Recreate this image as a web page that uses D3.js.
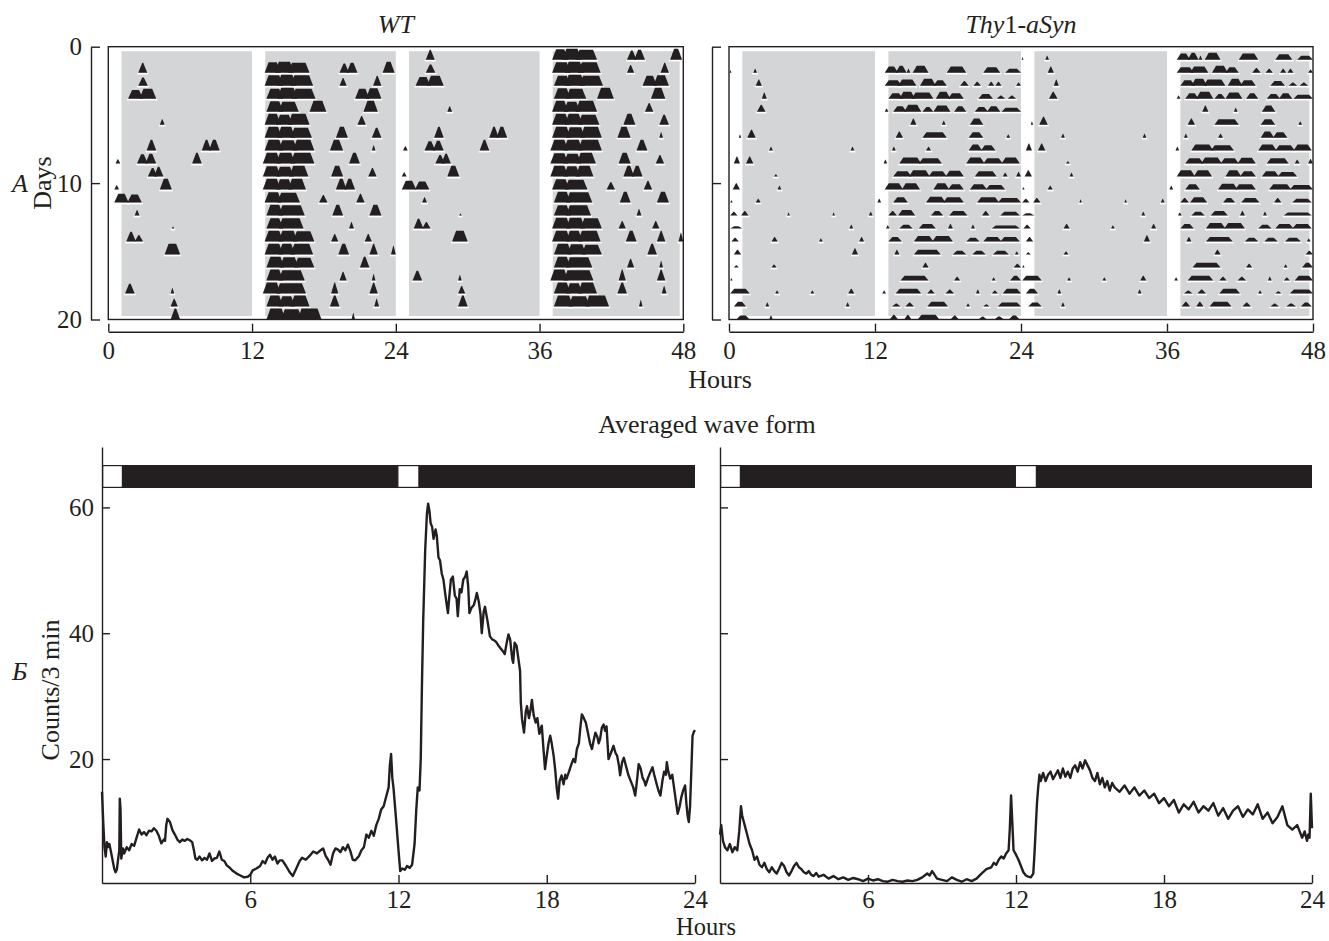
<!DOCTYPE html>
<html>
<head>
<meta charset="utf-8">
<script src="https://cdn.jsdelivr.net/npm/d3@7"></script>
<style>
  body { margin: 0; background: #fff; }
  svg text { font-family: "Liberation Serif", "Times New Roman", serif; fill: #231f20; }
</style>
</head>
<body>
<svg id="chart" width="1329" height="941"></svg>
<script>
// ---------------- data ----------------
const hourTicks = [0, 12, 24, 36, 48];
const dayTicks = [0, 10, 20];
const waveTicks = [20, 40, 60];
const waveHourTicks = [6, 12, 18, 24];
const darkSpans = [[1.1, 12.0], [13.1, 24.0], [25.1, 36.0], [37.1, 47.7]];
const lightBoxes = [[0, 0.85], [11.95, 12.85]];

// activity bouts per day: [start hour, end hour, relative height]; index = day number
const wtDays = [
  [],
  [[2.5,3.25,0.9],[13.05,14.4,0.95],[13.9,15.5,1],[15.0,16.8,0.9],[19.3,20.1,0.85],[19.9,20.8,0.9],[22.9,23.9,1]],
  [[2.5,3.3,0.75],[13.05,14.6,0.95],[14.1,15.7,1],[15.2,17.1,0.95],[19.3,19.9,0.7],[22.1,22.8,0.9]],
  [[1.65,2.9,0.8],[2.6,4.0,0.9],[13.2,14.6,0.9],[14.1,15.8,1],[15.3,17.3,0.9],[20.6,21.8,0.9],[21.5,22.8,0.95]],
  [[13.2,14.6,0.95],[14.2,15.9,0.9],[16.8,18.2,1],[21.3,22.5,1]],
  [[4.3,4.7,0.5],[13.05,14.4,1],[14.0,15.4,0.9],[15.0,16.8,1],[20.8,21.5,0.8]],
  [[13.05,14.5,1],[14.1,15.6,1],[15.2,17.0,0.9],[19.0,20.0,1],[22.0,22.8,0.9]],
  [[3.2,4.0,1],[7.8,8.6,1],[8.4,9.3,1],[13.05,14.6,1],[14.2,15.8,0.95],[15.4,17.2,1],[18.5,19.6,1],[22.0,22.3,0.5]],
  [[0.6,1.0,0.4],[2.4,3.3,0.85],[3.1,4.0,0.9],[7.0,7.8,1],[12.9,14.4,1],[14.0,15.6,1],[15.2,17.2,1],[20.1,21.0,1]],
  [[3.3,4.1,0.8],[3.8,4.6,0.9],[12.9,14.4,0.95],[14.0,15.5,0.9],[15.1,16.7,1],[18.6,19.6,1],[21.7,22.4,0.8]],
  [[0.5,0.9,0.4],[4.3,5.3,1],[12.9,14.4,1],[14.0,15.4,0.95],[15.0,16.5,1],[19.0,19.9,1],[19.7,20.6,1]],
  [[0.5,1.7,0.8],[1.6,2.8,0.75],[13.05,14.5,0.95],[14.1,16.0,0.9],[17.6,18.3,0.7],[20.7,21.4,0.8]],
  [[2.2,2.6,0.5],[13.2,14.6,1],[14.2,16.4,0.95],[18.7,19.6,1],[21.8,22.8,1]],
  [[5.3,5.5,0.2],[13.2,14.6,0.95],[14.2,16.3,0.95],[20.1,20.5,0.6]],
  [[1.5,2.3,0.9],[2.2,2.9,0.6],[13.05,14.6,1],[14.2,15.8,1],[15.4,17.2,0.95],[18.6,19.2,0.7],[21.4,22.0,0.7]],
  [[4.7,6.0,1],[13.05,14.6,1],[14.2,15.6,1],[15.2,17.1,1],[19.2,20.1,1],[21.8,22.5,1],[23.6,24.0,0.8]],
  [[13.2,14.7,1],[14.3,15.9,0.95],[15.5,17.2,0.9],[21.0,21.8,1]],
  [[13.2,14.6,1],[14.2,16.4,0.95],[19.3,19.9,0.8],[22.0,22.3,0.6]],
  [[1.4,2.2,0.9],[5.2,5.5,0.5],[12.9,14.4,1],[14.0,16.5,0.95],[18.6,19.2,1],[21.8,22.5,1]],
  [[5.2,5.8,0.7],[13.2,14.6,1],[14.2,15.6,0.95],[15.2,16.8,1],[18.5,19.3,1],[22.2,22.6,0.7]],
  [[5.2,6.0,1],[13.2,14.8,1],[14.4,16.2,0.95],[15.8,17.8,1],[20.3,20.6,0.6]]
];

const thyDays = [
  [],
  [[0.05,0.2,0.3],[2.0,2.3,0.5],[12.8,13.9,0.8],[13.7,14.6,0.9],[14.6,14.9,0.5],[15.1,16.4,0.9],[17.9,19.5,0.8],[20.9,22.3,0.7],[22.7,24.0,0.5]],
  [[2.2,2.7,0.8],[12.8,14.2,0.7],[13.9,15.4,0.8],[15.7,17.0,0.9],[16.8,17.9,0.7],[19.0,19.7,0.6],[20.1,20.7,0.5],[21.3,21.8,0.5],[21.9,22.4,0.5],[23.6,24.0,0.4]],
  [[2.7,3.1,0.8],[13.1,14.3,0.7],[14.0,15.3,0.9],[15.0,16.8,0.8],[17.0,18.2,0.9],[18.0,19.3,0.7],[20.5,21.7,0.6],[22.0,22.7,0.4],[22.9,23.6,0.4]],
  [[2.3,3.0,0.9],[12.8,13.1,0.4],[13.5,14.6,0.7],[14.4,15.8,0.9],[15.9,16.8,0.6],[16.8,18.2,0.8],[18.5,19.5,0.7],[20.2,21.3,0.6],[21.2,22.3,0.7],[22.4,24.0,0.5]],
  [[14.9,15.4,0.8],[17.5,17.8,0.5],[19.8,20.9,0.8]],
  [[0.8,1.0,0.4],[1.5,2.2,1],[13.7,14.3,0.8],[15.9,17.9,0.7],[19.7,20.9,0.7],[22.8,23.1,0.4]],
  [[3.3,3.6,0.5],[10.0,10.3,0.5],[13.4,13.7,0.5],[16.2,16.6,0.5],[19.7,20.8,0.8],[20.7,21.9,0.7]],
  [[0.4,0.9,0.9],[1.4,2.0,0.9],[12.7,13.0,0.5],[14.0,15.8,0.8],[15.6,17.5,0.7],[19.5,21.0,0.8],[20.9,22.5,0.7],[22.4,23.9,0.8]],
  [[3.7,4.0,0.3],[13.5,15.0,0.7],[14.8,16.5,0.8],[16.4,17.9,0.7],[17.8,19.3,0.75],[20.2,22.0,0.7],[22.5,22.9,0.5],[23.6,24.0,0.6]],
  [[0.3,0.9,0.8],[4.0,4.3,0.5],[12.8,14.3,0.8],[14.2,15.7,0.8],[16.8,18.1,0.8],[18.0,19.3,0.7],[19.8,21.2,0.7],[21.1,22.7,0.6]],
  [[0.1,0.3,0.3],[2.2,2.6,0.5],[12.2,12.5,0.5],[13.5,14.7,0.7],[16.2,17.8,0.75],[17.6,19.3,0.7],[20.4,22.2,0.7],[22.1,24.0,0.6]],
  [[0.1,0.7,0.5],[1.0,1.6,0.6],[4.8,5.0,0.4],[8.5,8.7,0.4],[11.5,11.8,0.5],[13.1,13.8,0.6],[13.9,15.3,0.7],[16.6,17.6,0.6],[18.1,19.6,0.6],[20.8,21.4,0.6],[22.3,23.9,0.5]],
  [[0.1,1.1,0.3],[9.9,10.2,0.5],[12.9,13.2,0.4],[14.0,15.1,0.5],[15.6,17.0,0.6],[18.0,18.4,0.6],[19.9,20.2,0.5],[21.6,23.9,0.4]],
  [[0.2,0.8,0.5],[3.5,4.0,0.6],[7.4,7.7,0.4],[10.7,11.1,0.6],[13.1,14.2,0.6],[15.2,16.8,0.7],[16.7,18.4,0.7],[19.5,20.6,0.5],[20.9,22.4,0.6],[22.3,23.9,0.6]],
  [[0.4,1.0,0.6],[10.1,10.6,0.8],[13.6,14.0,0.6],[15.2,17.4,0.6],[18.4,19.5,0.5],[20.0,21.1,0.5],[21.7,23.0,0.5],[23.5,23.8,0.4]],
  [[0.4,0.8,0.3],[3.5,3.9,0.4],[15.9,16.4,0.6],[23.4,24.0,0.5]],
  [[0.1,0.3,0.3],[14.1,16.4,0.6],[18.5,19.0,0.5],[21.6,21.9,0.4],[23.1,24.0,0.6]],
  [[0.1,1.7,0.6],[3.8,4.1,0.4],[6.7,7.0,0.4],[9.8,10.3,0.6],[12.6,12.9,0.4],[13.7,15.8,0.6],[16.3,16.9,0.5],[17.8,18.5,0.5],[20.3,20.6,0.5],[21.6,22.1,0.4],[22.5,24.0,0.6]],
  [[0.4,1.4,0.6],[3.0,3.3,0.5],[9.6,9.9,0.5],[13.4,14.1,0.4],[14.5,15.2,0.5],[16.3,18.0,0.6],[19.5,19.8,0.4],[20.9,21.4,0.3],[22.1,24.0,0.5]],
  [[0.6,1.7,0.5],[3.3,3.6,0.5],[13.2,13.9,0.6],[14.4,15.0,0.6],[15.5,17.3,0.6],[18.2,18.9,0.5],[20.5,21.2,0.4],[21.8,22.6,0.4],[23.0,23.9,0.5]]
];

// averaged wave form: [hour, counts per 3 min]
const wtWave = [
  [0,14.8],[0.05,10],[0.1,6],[0.15,4.5],[0.2,6.8],[0.25,6.0],[0.3,6.5],[0.4,4.5],[0.5,2.5],[0.55,2.0],[0.6,2.4],[0.65,4],
  [0.7,5.5],[0.72,13.7],[0.75,12],[0.78,4.2],[0.85,5.8],[0.9,5],[1.0,6],[1.1,5.5],[1.2,6.5],[1.3,6.2],[1.4,7.5],[1.5,8.8],
  [1.6,8.0],[1.7,8.4],[1.8,7.9],[1.9,8.6],[2.0,8.5],[2.1,9.0],[2.2,8.6],[2.3,7.8],[2.4,6.6],[2.5,7.2],[2.55,7.0],[2.6,9.5],
  [2.65,10.5],[2.75,10.0],[2.85,8.7],[2.95,8.0],[3.05,7.2],[3.15,6.8],[3.25,7.2],[3.35,7.0],[3.45,7.3],[3.55,7.1],[3.65,6.8],
  [3.72,5.5],[3.78,4.2],[3.85,4.0],[3.95,4.5],[4.05,3.9],[4.15,4.3],[4.25,4.0],[4.35,5.0],[4.45,3.8],[4.55,4.2],[4.65,4.3],
  [4.75,5.3],[4.85,4.0],[4.95,3.8],[5.05,3.1],[5.15,2.8],[5.3,2.2],[5.45,1.8],[5.6,1.5],[5.75,1.2],[5.9,1.3],[6.0,1.6],
  [6.1,2.3],[6.25,2.6],[6.4,3.0],[6.5,3.8],[6.6,3.4],[6.7,4.3],[6.8,4.8],[6.9,4.0],[7.0,4.5],[7.1,3.4],[7.2,3.9],[7.3,3.9],
  [7.45,3.0],[7.6,2.0],[7.72,1.4],[7.85,2.5],[8.0,3.8],[8.1,4.3],[8.25,4.0],[8.4,4.6],[8.55,5.3],[8.7,5.0],[8.85,5.5],
  [8.95,5.8],[9.05,4.6],[9.15,4.0],[9.25,3.2],[9.35,5.0],[9.45,5.8],[9.55,5.6],[9.65,5.2],[9.75,6.0],[9.85,5.5],[9.95,6.4],
  [10.05,5.4],[10.15,4.0],[10.25,3.9],[10.4,4.6],[10.5,5.5],[10.6,6.0],[10.7,8.0],[10.8,7.5],[10.9,8.6],[11.0,7.8],[11.1,9.5],
  [11.2,10.5],[11.3,12.0],[11.4,12.5],[11.5,14.0],[11.6,15.5],[11.65,19],[11.7,20.8],[11.75,17],[11.8,15.3],[11.9,10.5],
  [12.0,5.5],[12.07,2.2],[12.15,2.6],[12.25,2.4],[12.35,3.0],[12.45,2.7],[12.55,3.2],[12.65,6.5],[12.72,12],[12.78,15.5],
  [12.85,15.0],[12.9,20],[12.95,32],[13.0,42],[13.08,53.2],[13.15,59],[13.2,60.6],[13.25,59.5],[13.3,57.5],[13.36,56.9],
  [13.42,55.0],[13.5,56.5],[13.55,55.5],[13.62,52.0],[13.68,51.6],[13.75,49.5],[13.82,48.5],[13.9,46.0],[14.0,43.2],
  [14.05,45.5],[14.12,48.5],[14.2,49.0],[14.28,46.0],[14.35,45.5],[14.4,42.7],[14.48,47.0],[14.55,46.5],[14.62,48.5],
  [14.7,49.0],[14.76,49.8],[14.82,47.5],[14.87,43.2],[14.95,44.0],[15.05,44.5],[15.12,45.5],[15.17,46.4],[15.25,45.0],
  [15.32,43.0],[15.37,40.0],[15.45,43.5],[15.5,44.2],[15.6,42.0],[15.7,39.5],[15.8,39.0],[15.9,38.8],[15.97,38.5],
  [16.05,38.0],[16.15,37.5],[16.25,37.0],[16.3,36.7],[16.38,38.5],[16.45,39.8],[16.52,39.0],[16.6,36.0],[16.64,35.3],
  [16.7,38.5],[16.78,38.0],[16.85,36.0],[16.92,34.0],[16.95,29],[17.0,26.3],[17.08,24.2],[17.15,27.5],[17.2,28.4],
  [17.28,26.5],[17.35,28.0],[17.4,29.4],[17.47,27.0],[17.55,25.8],[17.62,26.5],[17.7,24.0],[17.8,25.3],[17.87,21.5],
  [17.93,18.4],[18.0,20.5],[18.07,22.5],[18.14,23.7],[18.2,22.5],[18.28,20.5],[18.35,18.0],[18.4,15.5],[18.46,13.7],
  [18.52,16.5],[18.6,17.4],[18.68,16.0],[18.75,17.5],[18.8,16.9],[18.9,18.0],[19.0,19.2],[19.08,20.0],[19.15,19.5],
  [19.22,21.6],[19.3,22.5],[19.36,25.0],[19.42,27.1],[19.5,26.5],[19.58,25.8],[19.65,24.5],[19.75,22.5],[19.83,21.6],
  [19.9,23.0],[19.97,24.2],[20.05,23.5],[20.1,22.5],[20.16,23.2],[20.23,25.0],[20.3,25.5],[20.36,24.5],[20.42,25.2],
  [20.5,20.0],[20.6,21.0],[20.7,22.1],[20.78,21.0],[20.85,20.5],[20.92,19.0],[20.97,17.4],[21.05,19.5],[21.12,20.2],
  [21.2,19.0],[21.3,17.5],[21.4,16.5],[21.5,15.5],[21.58,14.2],[21.65,16.5],[21.72,19.2],[21.8,18.5],[21.88,17.0],
  [21.95,16.5],[22.0,15.8],[22.1,17.0],[22.2,18.0],[22.28,18.7],[22.35,17.5],[22.45,16.0],[22.52,15.0],[22.6,14.2],
  [22.68,16.5],[22.75,18.0],[22.82,17.5],[22.86,19.5],[22.92,18.0],[23.0,16.9],[23.08,17.5],[23.15,15.5],[23.22,13.5],
  [23.3,11.3],[23.38,12.5],[23.45,14.0],[23.52,15.0],[23.6,15.8],[23.65,13.0],[23.7,11.0],[23.75,10.0],[23.8,12.5],
  [23.85,18.0],[23.9,23.7],[23.95,24.3],[24.0,24.6]
];

const thyWave = [
  [0,8.0],[0.05,9.5],[0.12,7.0],[0.2,6.0],[0.3,5.5],[0.4,6.5],[0.5,5.2],[0.6,6.0],[0.7,5.5],[0.78,8.5],[0.85,12.5],[0.9,11.0],
  [1.0,9.5],[1.1,8.0],[1.2,6.5],[1.3,5.5],[1.4,4.0],[1.5,4.5],[1.6,3.2],[1.7,2.8],[1.8,3.5],[1.9,2.5],[2.0,2.0],[2.1,2.8],
  [2.2,2.2],[2.3,1.8],[2.4,2.6],[2.5,3.5],[2.6,3.0],[2.7,2.0],[2.8,1.5],[2.9,2.2],[3.0,3.0],[3.1,3.5],[3.2,2.8],[3.3,2.5],
  [3.4,2.0],[3.5,1.8],[3.6,2.2],[3.7,1.6],[3.8,1.4],[3.9,1.9],[4.0,1.3],[4.2,1.6],[4.4,1.0],[4.6,1.4],[4.8,0.9],[5.0,1.2],
  [5.2,0.8],[5.4,1.1],[5.6,0.9],[5.8,0.6],[6.0,1.0],[6.2,0.7],[6.4,0.9],[6.6,0.6],[6.8,0.5],[7.0,0.8],[7.2,0.6],[7.4,0.5],
  [7.6,0.7],[7.8,0.6],[8.0,0.8],[8.2,1.2],[8.4,1.8],[8.5,1.5],[8.6,2.2],[8.7,1.6],[8.8,1.0],[9.0,0.8],[9.2,0.6],[9.4,1.2],
  [9.6,0.8],[9.8,0.5],[10.0,0.9],[10.2,0.6],[10.4,1.0],[10.6,1.8],[10.8,2.5],[11.0,2.8],[11.1,3.5],[11.2,3.2],[11.3,4.0],
  [11.4,4.5],[11.5,4.2],[11.6,5.0],[11.7,5.5],[11.75,9],[11.8,14.2],[11.85,10],[11.9,5.5],[12.0,4.8],[12.1,4.0],[12.2,3.0],
  [12.3,2.0],[12.4,1.5],[12.5,1.3],[12.6,1.2],[12.7,1.8],[12.75,5],[12.8,9],[12.85,13],[12.9,15.5],[12.95,17.5],[13.0,16.5],
  [13.1,17.8],[13.2,16.5],[13.3,17.5],[13.4,18.0],[13.5,16.8],[13.6,17.5],[13.7,18.2],[13.8,17.0],[13.9,18.5],[14.0,17.2],
  [14.1,18.0],[14.2,17.0],[14.3,18.5],[14.4,19.0],[14.5,18.0],[14.6,19.5],[14.7,18.5],[14.8,19.8],[14.9,19.0],[15.0,18.2],
  [15.1,17.0],[15.2,16.5],[15.3,17.8],[15.4,16.0],[15.5,17.0],[15.6,15.5],[15.7,16.5],[15.8,15.0],[15.9,16.2],[16.0,15.5],
  [16.2,14.8],[16.4,15.8],[16.6,14.5],[16.8,15.5],[17.0,14.2],[17.2,15.0],[17.4,13.8],[17.6,14.5],[17.8,13.0],[18.0,13.8],
  [18.2,12.5],[18.4,13.5],[18.6,11.5],[18.8,12.8],[19.0,12.0],[19.2,13.2],[19.4,11.5],[19.6,12.5],[19.8,11.8],[20.0,13.0],
  [20.2,11.0],[20.4,12.2],[20.6,10.5],[20.8,11.8],[21.0,12.5],[21.2,10.8],[21.4,12.0],[21.6,11.2],[21.8,12.8],[22.0,10.5],
  [22.2,11.5],[22.4,9.8],[22.6,10.8],[22.8,12.5],[23.0,9.5],[23.2,8.8],[23.4,9.5],[23.6,7.5],[23.7,8.5],[23.8,7.0],
  [23.85,8.0],[23.9,7.5],[23.95,14.5],[24.0,9.0]
];

// ---------------- drawing ----------------
const svg = d3.select("#chart");
const ink = "#231f20";
const shade = "#d4d5d7";
const fontSize = 26;
const tickFont = 25;

function styleAxis(g) {
  g.attr("font-family", null).attr("font-size", null);
  g.selectAll("path, line").attr("stroke", ink).attr("stroke-width", 1.4);
  g.selectAll("text").style("font-size", tickFont + "px").attr("fill", ink);
}

function drawActogram(days, xRange, yAxisX, withLabels, boutScale) {
  const x = d3.scaleLinear().domain([0, 48]).range(xRange);
  const y = d3.scaleLinear().domain([0, 20]).range([46.7, 319.5]);
  const rows = d3.scaleBand().domain(d3.range(21)).range([y(0), y(20)]);
  const unit = rows.bandwidth() * boutScale;
  const g = svg.append("g");

  // shaded dark periods
  g.selectAll("rect.dark")
    .data(darkSpans)
    .join("rect")
    .attr("class", "dark")
    .attr("x", d => x(d[0]))
    .attr("width", d => x(d[1]) - x(d[0]))
    .attr("y", y(0) + 4.5)
    .attr("height", y(20) - y(0) - 8)
    .attr("fill", shade);

  // double plot: row r shows day r (0-24 h) and day r+1 (24-48 h)
  const bouts = [];
  rows.domain().forEach(r => {
    (days[r] || []).forEach(b => bouts.push({ r, s: b[0], e: b[1], h: b[2] }));
    (days[r + 1] || []).forEach(b => bouts.push({ r, s: b[0] + 24, e: b[1] + 24, h: b[2] }));
  });

  const base = d => rows(d.r) + rows.bandwidth();
  g.selectAll("line.under")
    .data(bouts)
    .join("line")
    .attr("x1", d => x(d.s) - 1)
    .attr("x2", d => x(d.e) + 1)
    .attr("y1", d => base(d) + 1)
    .attr("y2", d => base(d) + 1)
    .attr("stroke", "#fff")
    .attr("stroke-width", 1.6);

  g.selectAll("path.bout")
    .data(bouts)
    .join("path")
    .attr("d", d => {
      const x0 = x(d.s), x1 = x(d.e), yb = base(d), top = yb - d.h * unit;
      const ramp = Math.min((x1 - x0) * 0.45, 4);
      return d3.line()([[x0, yb], [x0 + ramp, top], [x1 - ramp, top], [x1, yb]]) + "Z";
    })
    .attr("fill", ink);

  // frame
  g.append("rect")
    .attr("x", x(0)).attr("y", y(0))
    .attr("width", x(48) - x(0)).attr("height", y(20) - y(0))
    .attr("fill", "none").attr("stroke", ink).attr("stroke-width", 1.4);

  // day axis
  const yAxis = d3.axisLeft(y).tickValues(dayTicks).tickSizeInner(-9).tickSizeOuter(0).tickPadding(9);
  if (!withLabels) yAxis.tickFormat("");
  g.append("g").attr("transform", `translate(${yAxisX},0)`).call(yAxis).call(styleAxis);

  // hour axis
  g.append("g")
    .attr("transform", "translate(0,331.7)")
    .call(d3.axisBottom(x).tickValues(hourTicks).tickSizeInner(-8).tickSizeOuter(0).tickPadding(10))
    .call(styleAxis);
  return x;
}

const xWT = drawActogram(wtDays, [108.3, 683.3], 91, true, 0.84);
const xThy = drawActogram(thyDays, [729, 1313], 712, false, 0.6);

function drawWave(series, xRange, withLabels) {
  const x = d3.scaleLinear().domain([0, 24]).range(xRange);
  const y = d3.scaleLinear().domain([0.3, 69.6]).range([883, 447]);
  const g = svg.append("g");

  // light/dark bar
  g.append("rect")
    .attr("x", x(0)).attr("width", x(24) - x(0))
    .attr("y", 465).attr("height", 23)
    .attr("fill", ink);
  g.selectAll("rect.light")
    .data(lightBoxes)
    .join("rect")
    .attr("x", d => x(d[0]) + 0.6)
    .attr("width", d => x(d[1]) - x(d[0]) - 1.2)
    .attr("y", 465.6).attr("height", 21.8)
    .attr("fill", "#fff").attr("stroke", ink).attr("stroke-width", 1.2);

  g.append("path")
    .datum(series)
    .attr("d", d3.line().x(d => x(d[0])).y(d => y(d[1])))
    .attr("fill", "none")
    .attr("stroke", ink)
    .attr("stroke-width", 2.4)
    .attr("stroke-linejoin", "round");

  const yAxis = d3.axisLeft(y).tickValues(waveTicks).tickSizeInner(-8).tickSizeOuter(0).tickPadding(8);
  if (!withLabels) yAxis.tickFormat("");
  g.append("g").attr("transform", `translate(${x(0)},0)`).call(yAxis).call(styleAxis);

  g.append("g")
    .attr("transform", "translate(0,883)")
    .call(d3.axisBottom(x).tickValues(waveHourTicks).tickSizeInner(-8).tickSizeOuter(0).tickPadding(7))
    .call(styleAxis);
}

drawWave(wtWave, [102, 695], true);
drawWave(thyWave, [720, 1312], false);

// ---------------- titles and labels ----------------
const txt = (x, y, s, opts = {}) => svg.append("text")
  .attr("x", x).attr("y", y)
  .attr("text-anchor", opts.anchor || "middle")
  .style("font-size", (opts.size || fontSize) + "px")
  .style("font-style", opts.italic ? "italic" : "normal")
  .text(s);

txt((xWT(0) + xWT(48)) / 2, 33, "WT", { italic: true });
const thyTitle = txt((xThy(0) + xThy(48)) / 2, 33, "");
thyTitle.append("tspan").style("font-style", "italic").text("Thy");
thyTitle.append("tspan").text("1-");
thyTitle.append("tspan").style("font-style", "italic").text("aSyn");

txt(12, 192, "A", { anchor: "start", italic: true });
svg.append("text")
  .attr("transform", "translate(51,183) rotate(-90)")
  .attr("text-anchor", "middle")
  .style("font-size", fontSize + "px")
  .text("Days");
txt(720, 388, "Hours");

txt(707, 433, "Averaged wave form");
txt(12, 680, "Б", { anchor: "start", italic: true });
svg.append("text")
  .attr("transform", "translate(59,690) rotate(-90)")
  .attr("text-anchor", "middle")
  .style("font-size", fontSize + "px")
  .text("Counts/3 min");
txt(706, 935.3, "Hours", { size: 24.5 });
</script>
</body>
</html>
